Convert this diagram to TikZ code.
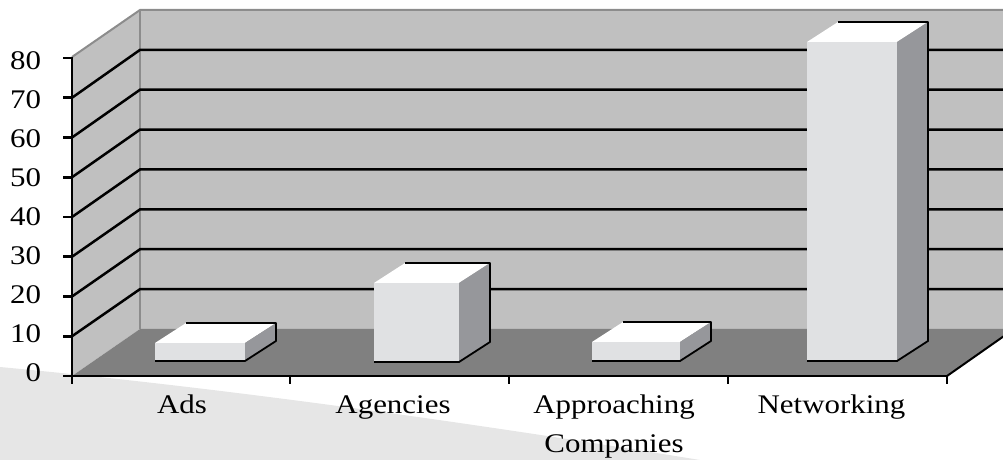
\documentclass[tikz,border=0pt]{standalone}
\usepackage{fontspec}
\setmainfont{Liberation Serif}
\definecolor{bggray}{HTML}{E6E6E6}
\definecolor{wallgray}{HTML}{C0C0C0}
\definecolor{floorgray}{HTML}{808080}
\definecolor{edgegray}{HTML}{8C8C8C}
\definecolor{frontc}{HTML}{E0E1E3}
\definecolor{sidec}{HTML}{96979B}
\newcommand\sx[1]{\scalebox{1.15}[1]{#1}}
\newcommand\drawbar[4]{%
  \fill[frontc] (#1,#4) rectangle (#2,#3);
  \fill[white] (#1,#3) -- (#2,#3) -- (#2+31,#3-20) -- (#1+31,#3-20) -- cycle;
  \fill[sidec] (#2,#4) -- (#2,#3) -- (#2+31,#3-20) -- (#2+31,#4-20) -- cycle;
  \draw[barshadow] (#1+31,#3-20) -- (#2+31,#3-20) -- (#2+31,#4-20) -- (#2,#4) -- (#1,#4);
}
\begin{document}
\begin{tikzpicture}[x=1bp,y=-1bp,
  gridline/.style={line width=2.5bp, black},
  axisline/.style={line width=2.6bp, black},
  barshadow/.style={line width=1.8bp, black, line join=round},
  lbl/.style={font=\fontsize{27}{39}\selectfont, inner sep=0pt, outer sep=0pt},
  catlbl/.style={lbl, anchor=base, align=center}]
\useasboundingbox (0,0) rectangle (1003,460);
\clip (0,0) rectangle (1003,460);
% background decoration
\fill[bggray] (0,367) .. controls (200,385.7) and (433.3,416.7) .. (700,460) -- (0,460) -- cycle;
% walls and floor
\fill[wallgray] (72,376) -- (72,57) -- (140,10) -- (140,329) -- cycle;
\fill[wallgray] (140,10) rectangle (1010,329);
\fill[floorgray] (72,376) -- (947,376) -- (1014,329) -- (140,329) -- cycle;
\draw[edgegray, line width=2bp] (72,57) -- (140,10) -- (1010,10);
\draw[edgegray, line width=1.5bp] (140,10) -- (140,329);
% gridlines
\foreach \v in {1,...,7}{
  \draw[gridline] (72,{376-\v*39.75}) -- (140,{329-\v*39.875}) -- (1010,{329-\v*39.875});
}
% bars
\drawbar{155}{245}{343}{361}
\drawbar{374}{459}{283}{362}
\drawbar{592}{680}{342}{361}
\drawbar{807}{897}{42}{361}
% axes
\draw[axisline] (72,57) -- (72,384);
\draw[axisline] (72,376) -- (947,376);
\draw[line width=2bp] (947,376) -- (1014,329);
\foreach \v in {0,...,8}{
  \draw[axisline] (63,{376-\v*39.75}) -- (72,{376-\v*39.75});
}
\foreach \x in {290,509,728,947}{
  \draw[axisline] (\x,376) -- (\x,384);
}
% value labels
\foreach \v/\t in {0/0,1/10,2/20,3/30,4/40,5/50,6/60,7/70,8/80}{
  \node[lbl, anchor=base east] (val\v) at (41,{382-\v*39}) {\sx{\t}};
}
% category labels
\node[catlbl] (cat1) at (182,413) {\sx{Ads}};
\node[catlbl] (cat2) at (393,413) {\sx{Agencies}};
\node[catlbl] (cat3) at (614,452) {\sx{Approaching}\\\sx{Companies}};
\node[catlbl] (cat4) at (831.5,413) {\sx{Networking}};
\end{tikzpicture}
\end{document}
